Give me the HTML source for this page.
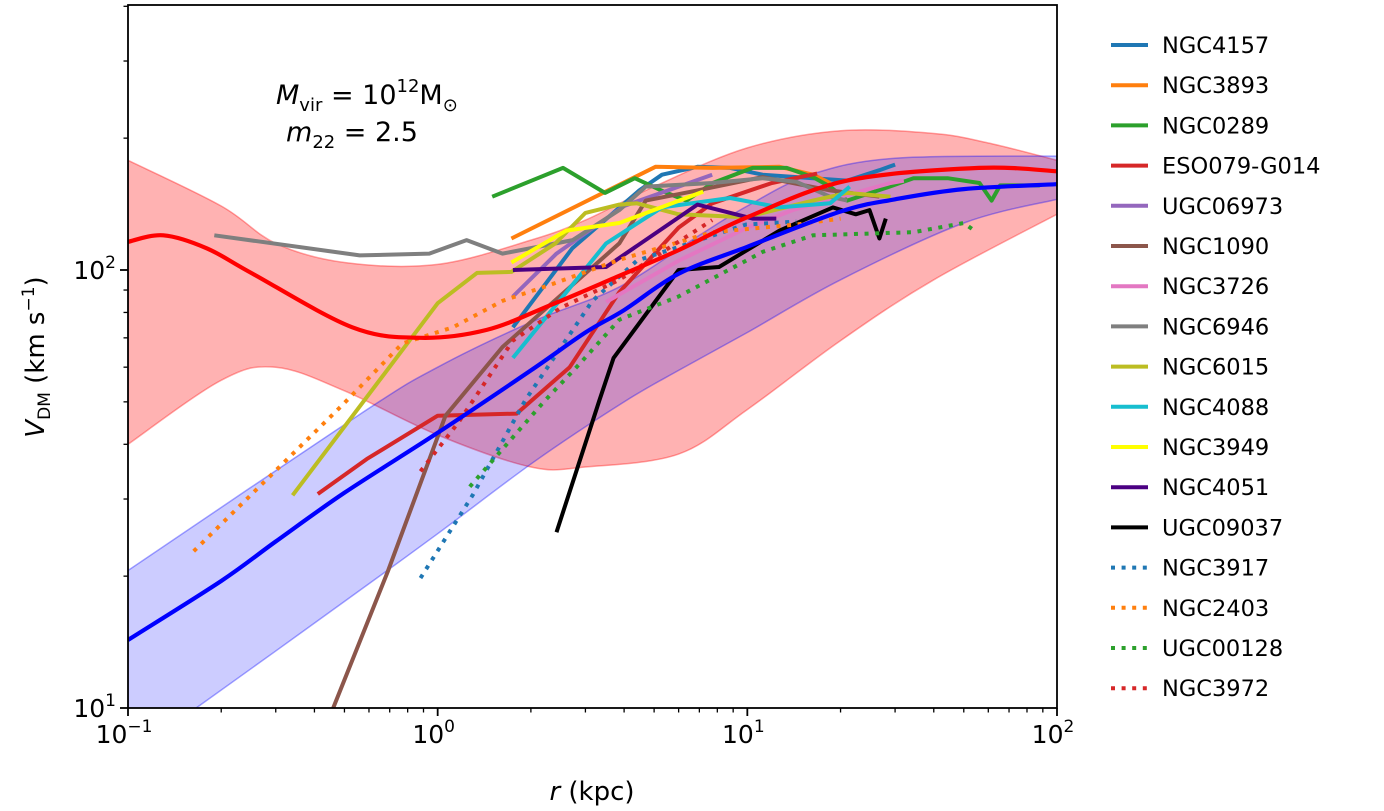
<!DOCTYPE html>
<html><head><meta charset="utf-8"><style>
body{margin:0;background:#fff;}
svg{display:block;font-family:"DejaVu Sans","Liberation Sans",sans-serif;}
</style></head><body>
<svg id="chart" width="1384" height="811" viewBox="0 0 1384 811" xmlns="http://www.w3.org/2000/svg">
<g id="plot"></g>
<g id="axes"></g>
<g id="legend"></g>
<text x="276" y="104" font-size="27"><tspan font-style="italic">M</tspan><tspan font-size="18" dy="7">vir</tspan><tspan dy="-7"> = 10</tspan><tspan font-size="18" dy="-12">12</tspan><tspan dy="12">M</tspan><tspan font-size="18" dy="7">⊙</tspan></text>
<text x="286" y="141" font-size="27"><tspan font-style="italic">m</tspan><tspan font-size="18" dy="7">22</tspan><tspan dy="-7"> = 2.5</tspan></text>
<text x="592" y="800" font-size="26" text-anchor="middle"><tspan font-style="italic">r</tspan> (kpc)</text>
<text transform="translate(44,357) rotate(-90)" font-size="26" text-anchor="middle"><tspan font-style="italic">V</tspan><tspan font-size="17" dy="6">DM</tspan><tspan dy="-6"> (km s</tspan><tspan font-size="17" dy="-10">−1</tspan><tspan dy="10">)</tspan></text>
</svg>
<script>
const NS="http://www.w3.org/2000/svg";
// model curves
const modelR=[0.1,0.13,0.18,0.253,0.53,0.88,1.44,2.3,3.86,6,10,21,56,100];
const modelRedV=[116,120,112,98,74,70,73,83,97,111,132,160,171,168];
const redBandUpR=[0.1,0.2,0.3,0.5,1,2,3,5,10,20,40,60,100];
const redBandUpV=[178,140,115,104,103,117,130,155,190,208,205,195,178];
const redBandLoR=[0.1,0.2,0.3,0.5,1,2,3,6,10,20,40,100];
const redBandLoV=[40,56,60,53,42,35.5,35.5,38,48,69,95,134];
const blueR=[0.1,0.2,0.3,0.5,1,2,3,4,6,10,20,30,50,100];
const blueV=[14.3,19.5,24,31,42.5,59,72,81,98,113,136,145,153,157];
const blueBandUpR=[0.1,0.565,1,2,3.86,7,10,16,30,100];
const blueBandUpV=[20.6,47,60,76,91.5,120,140,165,180,182];
const blueBandLoR=[0.1,0.166,0.5,1,2.05,4,6,10,20,50,100];
const blueBandLoV=[7.8,10,17.5,25,36.5,50,59,72,95,128,145];
// galaxies
const galNames=["NGC4157","NGC3893","NGC0289","ESO079-G014","UGC06973","NGC1090","NGC3726","NGC6946","NGC6015","NGC4088","NGC3949","NGC4051","UGC09037","NGC3917","NGC2403","UGC00128","NGC3972"];
const galColors=["#1f77b4","#ff7f0e","#2ca02c","#d62728","#9467bd","#8c564b","#e377c2","#7f7f7f","#bcbd22","#17becf","#ffff00","#4b0082","#000000","#1f77b4","#ff7f0e","#2ca02c","#d62728"];
const galDotted=[0,0,0,0,0,0,0,0,0,0,0,0,0,1,1,1,1];
const gR0=[1.75,2.72,4.48,5.3,6.9,8.8,11.2,16.3,21,26.7,30];
const gV0=[74,112,152,165,172,171,165,162,160,169,174];
const gR1=[1.73,5.05,7.7,12.7,16.3,18.5];
const gV1=[118,172,171,172,165,158];
const gR2=[1.5,2.54,3.47,4.33,5.49,6.36,7.73,10.4,13.4,16.3,18.5,21,28.8,34.4,44.3,56.2,61.5,65.5,88];
const gV2=[147,171,150,162,150,144,158,171,171,163,155,144,155,162,162,158,144,156,156];
const gR3=[0.41,0.59,1.0,1.8,2.67,3.86,6,7.7,12,16.8];
const gV3=[30.8,37,46.5,47,60,89,125,142,158,166];
const gR4=[1.75,2.42,4,7.7];
const gV4=[87,109,140,165];
const gR5=[0.46,0.69,1.06,1.62,3.86,4.7,6.9,11.2,18.5,26.7];
const gV5=[10,20.5,46.5,66.7,115,144,152,163,152,147];
const gR6=[3.5,6,10,14,29,32];
const gV6=[84.5,105,125,137,158,160];
const gR7=[0.19,0.56,0.94,1.24,1.62,2.73,3.86,4.7,7.7,11.2,14.4,18.5,21];
const gV7=[120,108,109,117,109,117,137,155,158,162,159,147,144];
const gR8=[0.34,1.0,1.34,1.73,2.4,3.0,3.86,4.4,6,9.9,16.3,21,29];
const gV8=[30.6,84,98.5,99,115,135,141,142,134,132,144,150,147];
const gR9=[1.75,3.5,5.3,8.8,12.7,18.5,21.4];
const gV9=[63,115,139,146,139,142,155];
const gR10=[1.73,2.6,3.86,7.2];
const gV10=[104,123,128,151];
const gR11=[1.75,3.5,6.9,10.4,12.4];
const gV11=[100,101.6,141,131,131];
const gR12=[2.42,3.33,3.7,6,8.1,12.7,18.9,22.4,24.8,26.7,28];
const gV12=[25.2,50.5,63,100,101.6,123,139,134,137,118,131];
const gR13=[0.88,1.3,1.92,3.16,4.4,9.9,14.4];
const gV13=[19.8,30.7,50.5,85,105,127,129];
const gR14=[0.163,0.49,0.77,1.12,1.62,2.36,3.86,7.7,14.4,20];
const gV14=[22.8,49,68,74,85,93,105.5,122,127,131];
const gR15=[1.27,2.2,2.87,3.86,6,11.2,16.3,34.4,50,55];
const gV15=[32,50,61,77,87,110,120,122,128,122];
const gR16=[0.88,1.17,1.75,2.5,3.86,7.7];
const gV16=[34.7,45,69,82,95,130];
const xTickLabels=["-1","0","1","2"];
const yTickLabels=["1","2"];

const X0=128,X1=1057,Y0=5,Y1=708;
const xs=r=>X0+(Math.log10(r)+1)*(X1-X0)/3;
const ys=v=>708-(Math.log10(v)-1)*438;
function el(t,a,p){const e=document.createElementNS(NS,t);for(const k in a)e.setAttribute(k,a[k]);p.appendChild(e);return e;}
const plot=document.getElementById('plot'),axes=document.getElementById('axes'),leg=document.getElementById('legend');
const defs=el('defs',{},plot);
const cp=el('clipPath',{id:'clip'},defs);
el('rect',{x:X0,y:Y0,width:X1-X0,height:Y1-Y0},cp);
const g=el('g',{'clip-path':'url(#clip)'},plot);
function pts(R,V){return R.map((r,i)=>xs(r).toFixed(1)+','+ys(V[i]).toFixed(1));}
function curve(R,V,start){
 const P=R.map((r,i)=>[xs(r),ys(V[i])]);
 let d=(start?'M':'L')+P[0][0].toFixed(1)+','+P[0][1].toFixed(1);
 for(let i=0;i<P.length-1;i++){
  const p0=P[Math.max(0,i-1)],p1=P[i],p2=P[i+1],p3=P[Math.min(P.length-1,i+2)];
  d+='C'+(p1[0]+(p2[0]-p0[0])/6).toFixed(1)+','+(p1[1]+(p2[1]-p0[1])/6).toFixed(1)+' '+(p2[0]-(p3[0]-p1[0])/6).toFixed(1)+','+(p2[1]-(p3[1]-p1[1])/6).toFixed(1)+' '+p2[0].toFixed(1)+','+p2[1].toFixed(1);
 }
 return d;
}
function band(Ru,Vu,Rl,Vl,col,op,name){
 const d=curve(Ru,Vu,true)+curve(Rl.slice().reverse(),Vl.slice().reverse(),false)+'Z';
 const p=el('path',{d:d,fill:col,'fill-opacity':op,stroke:col,'stroke-opacity':0.35,'stroke-width':1.5},g);
 
 
}
band(redBandUpR,redBandUpV,redBandLoR,redBandLoV,'#ff0000',0.3,'red-model-band');
band(blueBandUpR,blueBandUpV,blueBandLoR,blueBandLoV,'#0000ff',0.2,'blue-model-band');
const gr=[gR0,gR1,gR2,gR3,gR4,gR5,gR6,gR7,gR8,gR9,gR10,gR11,gR12,gR13,gR14,gR15,gR16];
const gv=[gV0,gV1,gV2,gV3,gV4,gV5,gV6,gV7,gV8,gV9,gV10,gV11,gV12,gV13,gV14,gV15,gV16];
for(let i=0;i<galNames.length;i++){
 const a={points:pts(gr[i],gv[i]).join(' '),fill:'none',stroke:galColors[i],'stroke-width':4,'stroke-linejoin':'round'};
 if(galDotted[i])a['stroke-dasharray']='4,6.6';
 const p=el('polyline',a,g);
 
 
}
function smooth(R,V,col,name){
 const p=el('path',{d:curve(R,V,true),fill:'none',stroke:col,'stroke-width':4.2},g);
 
 
}
smooth(modelR,modelRedV,'#ff0000','red-model-curve');
smooth(blueR,blueV,'#0000ff','blue-model-curve');
// frame
const fr=el('rect',{x:X0,y:Y0,width:X1-X0,height:Y1-Y0,fill:'none',stroke:'#000','stroke-width':1.8},axes);


// x ticks
for(let dlog=-1;dlog<2;dlog++){for(let m=1;m<10;m++){const x=xs(m*Math.pow(10,dlog));el('line',{x1:x,x2:x,y1:Y1,y2:Y1+(m==1?8:4.5),stroke:'#000','stroke-width':m==1?1.8:1.3},axes);}}
el('line',{x1:X1,x2:X1,y1:Y1,y2:Y1+8,stroke:'#000','stroke-width':1.8},axes);
xTickLabels.forEach((lab,i)=>{const t=el('text',{x:xs(Math.pow(10,i-1))-4,y:Y1+35,'font-size':25,'text-anchor':'middle'},axes);t.innerHTML='10<tspan font-size="17" dy="-11">'+lab.replace('-','−')+'</tspan>';
 
 });
// y ticks
for(let v=10;v<=400;v+= (v<100?10:100)){const y=ys(v);if(y<Y0)continue;const major=(v==10||v==100);el('line',{x1:X0,x2:X0-(major?8:4.5),y1:y,y2:y,stroke:'#000','stroke-width':major?1.8:1.3},axes);}
yTickLabels.forEach(lab=>{const t=el('text',{x:X0-12,y:ys(Math.pow(10,+lab))+9,'font-size':25,'text-anchor':'end'},axes);t.innerHTML='10<tspan font-size="17" dy="-11">'+lab+'</tspan>';
 
 });
// legend
galNames.forEach((n,i)=>{const y=45+i*40.2;
 const a={x1:1111,x2:1148,y1:y,y2:y,stroke:galColors[i],'stroke-width':4};
 if(galDotted[i])a['stroke-dasharray']='4,6.6';
 const l=el('line',a,leg);
 
 
 const t=el('text',{x:1162,y:y+8,'font-size':22.5},leg);t.textContent=n;
 
 
});
</script>
</body></html>
